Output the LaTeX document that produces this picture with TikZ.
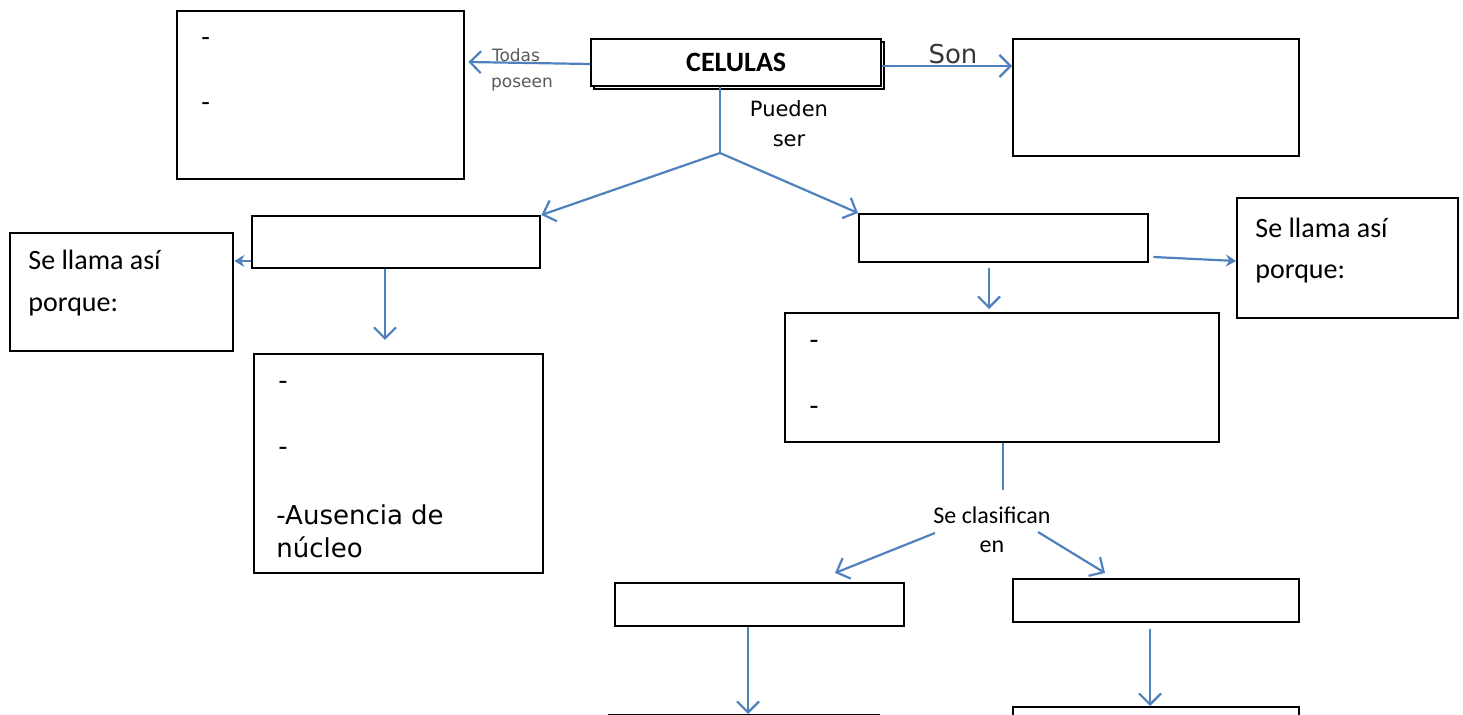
\documentclass[tikz,border=0pt]{standalone}
\usepackage{fontspec}
\setmainfont{Carlito}
\newfontfamily\dvs{DejaVu Sans}
\usetikzlibrary{arrows.meta}
\definecolor{ablue}{RGB}{79,129,189}
\definecolor{lgray}{RGB}{90,90,90}
\tikzset{
  box/.style={draw=black, line width=1.2pt, fill=white, anchor=north west, inner sep=0pt},
  conn/.style={draw=ablue, line width=1.1pt, -{Straight Barb[length=5.5pt,width=11pt]}},
  connf/.style={draw=ablue, line width=1.1pt, -{Stealth[length=5pt,width=6pt]}},
  plainc/.style={draw=ablue, line width=1.1pt},
  lbl/.style={anchor=base west, inner sep=0pt},
  clbl/.style={anchor=base, inner sep=0pt},
  big/.style={font=\fontsize{14pt}{17pt}\selectfont},
  dv/.style={font=\dvs\fontsize{13pt}{16pt}\selectfont},
}
\begin{document}
\begin{tikzpicture}[x=0.5pt,y=-0.5pt]
\useasboundingbox (0,0) rectangle (1463,715);
% boxes
\node[box, minimum width=143.5pt, minimum height=84pt] (tl) at (176,10) {};
\node[box, minimum width=145pt, minimum height=23.5pt] (celsh) at (593,41) {};
\node[box, minimum width=145pt, minimum height=23.5pt] (cel) at (590,38) {};
\node[font=\bfseries\fontsize{14pt}{17pt}\selectfont, inner sep=0pt] (celt) at (cel.center) {CELULAS};
\node[box, minimum width=143pt, minimum height=58.5pt] (tr) at (1012,38) {};
\node[box, minimum width=144pt, minimum height=26pt] (ml) at (251,215) {};
\node[box, minimum width=111.5pt, minimum height=59pt] (sl) at (9,232) {};
\node[box, minimum width=144.5pt, minimum height=24pt] (mr) at (858,213) {};
\node[box, minimum width=110.5pt, minimum height=60pt] (sr) at (1236,197) {};
\node[box, minimum width=144.5pt, minimum height=109.5pt] (ll) at (253,353) {};
\node[box, minimum width=217pt, minimum height=64.5pt] (rl) at (784,312) {};
\node[box, minimum width=144.5pt, minimum height=21.5pt] (bl) at (614,582) {};
\node[box, minimum width=143pt, minimum height=21.5pt] (br) at (1012,578) {};
\node[box, minimum width=135pt, minimum height=20pt] (bbl) at (608,714) {};
\node[box, minimum width=143pt, minimum height=20pt] (bbr) at (1012,706) {};
% texts in boxes
\node[lbl, big] (tl1) at (201,47) {-};
\node[lbl, big] (tl2) at (201,112) {-};
\node[lbl, big] (sl1) at (28,270) {Se llama así};
\node[lbl, big] (sl2) at (28,312) {porque:};
\node[lbl, big] (sr1) at (1255,238) {Se llama así};
\node[lbl, big] (sr2) at (1255,279) {porque:};
\node[lbl, dv] (ll1) at (278,390) {-};
\node[lbl, dv] (ll2) at (278,456) {-};
\node[lbl, dv] (ll3) at (276,525) {-Ausencia de};
\node[lbl, dv] (ll4) at (276,558) {núcleo};
\node[lbl, dv] (rl1) at (809,349) {-};
\node[lbl, dv] (rl2) at (809,415) {-};
% connector labels
\node[clbl, font=\dvs\fontsize{8.5pt}{10pt}\selectfont, text=lgray] (todas) at (516,62) {Todas};
\node[clbl, font=\dvs\fontsize{8.5pt}{10pt}\selectfont, text=lgray] (poseen) at (522,88) {poseen};
\node[clbl, font=\dvs\fontsize{13pt}{16pt}\selectfont, text=lgray!60!black] (son) at (953,64) {Son};
\node[clbl, font=\dvs\fontsize{10.5pt}{12pt}\selectfont] (pueden) at (789,117) {Pueden};
\node[clbl, font=\dvs\fontsize{10.5pt}{12pt}\selectfont] (ser) at (789,147) {ser};
\node[clbl, font=\fontsize{12pt}{14pt}\selectfont] (clas) at (992,524) {Se clasifican};
\node[clbl, font=\fontsize{12pt}{14pt}\selectfont] (en) at (992,553) {en};
% connectors
\coordinate (cl) at (cel.west |- 0,64);
\coordinate (cr) at (cel.east |- 0,66);
\draw[conn] (cl) -- ([xshift=1.5pt]tl.east |- 0,62);
\draw[conn] (cr) -- (tr.west |- 0,66);
\coordinate (cb) at (cel.south -| 720,0);
\coordinate (fork) at (720,153);
\draw[plainc] (cb) -- (fork);
\draw[conn] (fork) -- (ml.north east);
\draw[conn] (fork) -- (mr.north west);
\draw[connf] (ml.west |- 0,261) -- (sl.east |- 0,261);
\draw[conn] (ml.south -| 385,0) -- (385,340);
\draw[connf] ([xshift=2pt]mr.east |- 0,257) -- (sr.west |- 0,261);
\draw[conn] ([yshift=-2.5pt]mr.south -| 989,0) -- (989,309);
\coordinate (rlb) at (rl.south -| 1003,0);
\draw[plainc] (rlb) -- (1003,490);
\draw[conn] (935,533) -- (835,573);
\draw[conn] (1038,532) -- (1105,573);
\draw[conn] (bl.south -| 748,0) -- (bbl.north -| 748,0);
\draw[conn] ([yshift=-3pt]br.south -| 1150,0) -- (bbr.north -| 1150,0);
\end{tikzpicture}
\end{document}
